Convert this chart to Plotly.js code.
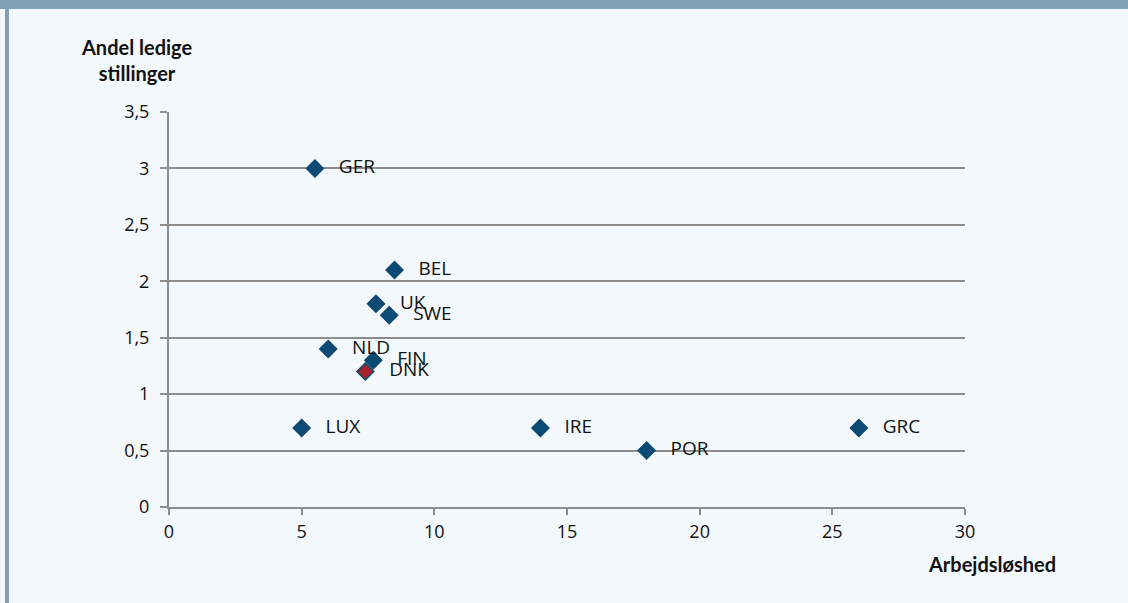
<!DOCTYPE html>
<html>
<head>
<meta charset="utf-8">
<script src="https://cdn.plot.ly/plotly-3.0.1.min.js"></script>
<style>
  html, body { margin: 0; padding: 0; background: #F3F8FC; }
  #wrap { position: relative; width: 1128px; height: 603px; overflow: hidden; }
  #chart { position: absolute; left: 0; top: 0; width: 1128px; height: 603px; }
  #band { position: absolute; left: 0; top: 0; width: 1128px; height: 9px; background: #7FA1B6; }
  #bar { position: absolute; left: 5px; top: 0; width: 4px; height: 603px; background: #7FA1B6; }
</style>
</head>
<body>
<div id="wrap">
  <div id="chart"></div>
  <div id="band"></div>
  <div id="bar"></div>
</div>
<script>
const countries = ["GER", "BEL", "UK", "SWE", "NLD", "FIN", "DNK", "LUX", "IRE", "POR", "GRC"];
const unemployment = [5.5, 8.5, 7.8, 8.3, 6.0, 7.7, 7.4, 5.0, 14.0, 18.0, 26.0];
const vacancies = [3.0, 2.1, 1.8, 1.7, 1.4, 1.3, 1.2, 0.7, 0.7, 0.5, 0.7];
const highlight = "DNK";
const xTicks = [0, 5, 10, 15, 20, 25, 30];
const yTicks = [0, 0.5, 1, 1.5, 2, 2.5, 3, 3.5];
const yTickLabels = ["0", "0,5", "1", "1,5", "2", "2,5", "3", "3,5"];

const colors = countries.map(c => c === highlight ? "#A4222C" : "#0B4A72");

const trace = {
  type: "scatter",
  mode: "markers+text",
  x: unemployment,
  y: vacancies,
  text: countries.map(c => "\u00a0\u00a0\u00a0" + c),
  textposition: "middle right",
  textfont: { family: "Open Sans, sans-serif", size: 19, color: "#111111" },
  marker: { symbol: "diamond", size: 13, color: colors, line: { color: "#0B4A72", width: 1.5 } },
  hoverinfo: "skip",
  cliponaxis: false
};

const layout = {
  width: 1128, height: 603,
  margin: { l: 169, r: 163, t: 112, b: 96 },
  paper_bgcolor: "#F3F8FC",
  plot_bgcolor: "#F3F8FC",
  showlegend: false,
  font: { family: "Open Sans, sans-serif", size: 18, color: "#111111" },
  xaxis: {
    range: [0, 30], tickvals: xTicks, ticktext: xTicks.map(String),
    showgrid: false, zeroline: false,
    showline: true, linecolor: "#8C8C8C", linewidth: 2,
    ticks: "outside", ticklen: 6, tickwidth: 2, tickcolor: "#8C8C8C",
    ticklabelstandoff: 1,
    tickfont: { family: "Open Sans, sans-serif", size: 18, color: "#111111" },
    fixedrange: true
  },
  yaxis: {
    range: [0, 3.5], tickvals: yTicks, ticktext: yTickLabels,
    showgrid: true, gridcolor: "#8C8C8C", gridwidth: 2,
    zeroline: false,
    showline: true, linecolor: "#8C8C8C", linewidth: 2,
    ticks: "outside", ticklen: 7, tickwidth: 2, tickcolor: "#8C8C8C",
    ticklabelstandoff: 7,
    tickfont: { family: "Open Sans, sans-serif", size: 18, color: "#111111" },
    fixedrange: true
  },
  annotations: [
    { text: "<b>Andel ledige<br>stillinger</b>", xref: "paper", yref: "paper",
      x: -0.041, y: 1.0, xanchor: "center", yanchor: "bottom", yshift: 25,
      showarrow: false, align: "center",
      font: { family: "Lato, sans-serif", size: 20, color: "#111111" } },
    { text: "<b>Arbejdsløshed</b>", xref: "paper", yref: "paper",
      x: 1.034, y: 0, xanchor: "center", yanchor: "top", yshift: -43,
      showarrow: false,
      font: { family: "Lato, sans-serif", size: 20, color: "#111111" } }
  ]
};

Plotly.newPlot("chart", [trace], layout, { staticPlot: true, displayModeBar: false });
</script>
</body>
</html>
